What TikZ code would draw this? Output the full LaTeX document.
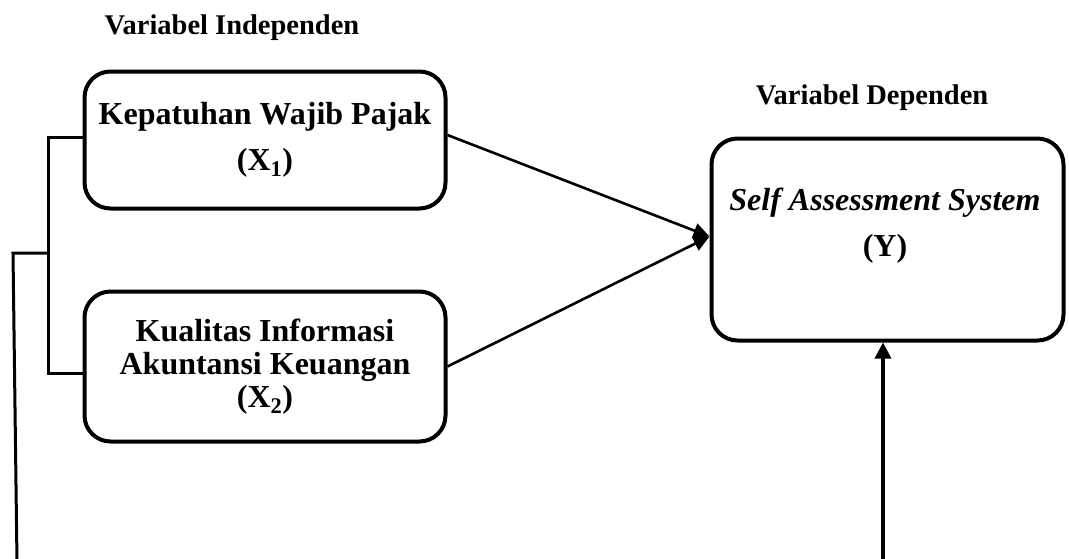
\documentclass[tikz,border=0pt]{standalone}
\usepackage{fontspec}
\setmainfont{Liberation Serif}
\usetikzlibrary{arrows.meta}
\begin{document}
\begin{tikzpicture}[x=1pt,y=-1pt,
  box/.style={draw,line width=4pt,rounded corners=26pt,align=center,inner sep=0pt},
  boxfont/.style={font=\bfseries\fontsize{32}{46}\selectfont},
  ttl/.style={font=\bfseries\fontsize{28.5}{34}\selectfont,inner sep=0pt},
  link/.style={line width=3pt,line cap=rect},
  arr/.style={line width=2.6pt,-{Triangle[length=16pt,width=15pt]}},
  uparr/.style={line width=3.5pt,-{Triangle[length=16pt,width=16pt]}}]
\useasboundingbox (0,0) rectangle (1069,558);

% titles
\node[ttl] (t1) at (232,28) {Variabel Independen};
\node[ttl] (t2) at (872,98) {Variabel Dependen};

% boxes
\node[box,boxfont,minimum width=361pt,minimum height=137pt] (X1) at (265,140)
  {Kepatuhan Wajib Pajak\\(X\textsubscript{1})};
\node[box,font=\bfseries\fontsize{32}{33}\selectfont,minimum width=361pt,minimum height=150pt] (X2) at (265,366.5)
  {Kualitas Informasi\\Akuntansi Keuangan\\(X\textsubscript{2})};
\node[box,minimum width=352pt,minimum height=202pt] (Y) at (887.5,239.5) {};
\node[boxfont,align=center,inner sep=0pt] (Yt) at (885,226)
  {\textit{Self Assessment System}\\(Y)};

% bracket on the left
\coordinate (j) at (48,253);
\coordinate (lt) at (13,253);
\coordinate (lb) at (17,562);
\draw[link] ([yshift=3pt]X1.west) -| (j) |- ([yshift=-6.5pt]X2.west);
\draw[link] (j) -- (lt) -- (lb);

% arrows into Y
\draw[arr] ([yshift=5pt]X1.east) -- ([yshift=3pt]Y.west);
\draw[arr] (X2.east) -- ([yshift=3pt]Y.west);

% arrow from below
\coordinate (bb) at (883,562);
\draw[uparr] (bb) -- ([xshift=-4.5pt]Y.south);
\end{tikzpicture}
\end{document}
